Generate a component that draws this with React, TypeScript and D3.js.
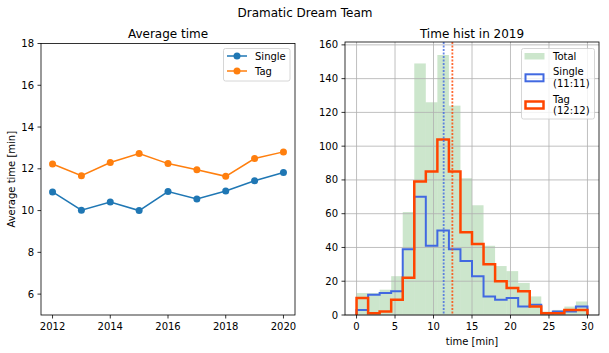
import React from 'react';
import * as d3 from 'd3';

// Average time per year
const years = [2012, 2013, 2014, 2015, 2016, 2017, 2018, 2019, 2020];
const singleAvg = [10.89, 10.02, 10.41, 10.0, 10.91, 10.56, 10.94, 11.43, 11.82];
const tagAvg = [12.23, 11.67, 12.3, 12.73, 12.25, 11.96, 11.64, 12.49, 12.81];
const leftYTicks = [6, 8, 10, 12, 14, 16, 18];
const leftXTicks = [2012, 2014, 2016, 2018, 2020];

// Histogram 2019 (bins of 1.5 min from 0 to 30)
const binEdges = d3.range(0, 30.01, 1.5);
const totalCounts = [13, 13, 15, 23, 61, 149, 126, 154, 124, 81, 65, 41, 29, 26, 19, 11, 2, 3, 5, 8];
const singleCounts = [3, 12, 13, 14, 39, 70, 41, 50, 39, 32, 23, 11, 9, 10, 5, 6, 1, 2, 2, 5];
const tagCounts = [10, 1, 2, 9, 22, 79, 85, 104, 85, 49, 42, 30, 20, 16, 14, 5, 1, 1, 3, 3];
const singleMean = 11.32;
const tagMean = 12.45;
const histXTicks = [0, 5, 10, 15, 20, 25, 30];
const histYTicks = [0, 20, 40, 60, 80, 100, 120, 140, 160];

const FONT = 'DejaVu Sans, sans-serif';
const BLUE = '#1f77b4';
const ORANGE = '#ff7f0e';

const stepPath = (counts: number[], x: d3.ScaleLinear<number, number>, y: d3.ScaleLinear<number, number>) => {
  let p = `M${x(binEdges[0])},${y(0)}`;
  counts.forEach((c, i) => {
    p += `L${x(binEdges[i])},${y(c)}L${x(binEdges[i + 1])},${y(c)}`;
  });
  p += `L${x(binEdges[counts.length])},${y(0)}`;
  return p;
};

const App = () => {
  // left panel
  const lx = d3.scaleLinear().domain([2011.6, 2020.4]).range([41, 295]);
  const ly = d3.scaleLinear().domain([5, 18]).range([315, 43.5]);
  const line = d3.line<number>().x((_, i) => lx(years[i])).y(d => ly(d));

  // right panel
  const hx = d3.scaleLinear().domain([-1.5, 31.5]).range([345, 599]);
  const hy = d3.scaleLinear().domain([0, 161.7]).range([315, 42]);

  return (
    <svg width={609} height={353} style={{ position: 'absolute', left: 0, top: 0, background: '#fff' }}
      fontFamily={FONT}>
      <text x={305} y={17} textAnchor="middle" fontSize={12}>Dramatic Dream Team</text>

      {/* Left: Average time */}
      <text x={168} y={38} textAnchor="middle" fontSize={12}>Average time</text>
      {leftYTicks.map(t => (
        <g key={t}>
          <line x1={41} x2={37.5} y1={ly(t)} y2={ly(t)} stroke="#000" strokeWidth={0.8} />
          <text x={34} y={ly(t)} dy="0.35em" textAnchor="end" fontSize={10}>{t}</text>
        </g>
      ))}
      {leftXTicks.map(t => (
        <g key={t}>
          <line x1={lx(t)} x2={lx(t)} y1={315} y2={318.5} stroke="#000" strokeWidth={0.8} />
          <text x={lx(t)} y={330} textAnchor="middle" fontSize={10}>{t}</text>
        </g>
      ))}
      <text transform={`translate(11,${(43.5 + 315) / 2}) rotate(-90)`} textAnchor="middle" dy="0.35em" fontSize={10}>
        Average time [min]
      </text>
      <path d={line(singleAvg) || ''} fill="none" stroke={BLUE} strokeWidth={1.5} />
      <path d={line(tagAvg) || ''} fill="none" stroke={ORANGE} strokeWidth={1.5} />
      {singleAvg.map((v, i) => <circle key={'s' + i} cx={lx(years[i])} cy={ly(v)} r={3.5} fill={BLUE} />)}
      {tagAvg.map((v, i) => <circle key={'t' + i} cx={lx(years[i])} cy={ly(v)} r={3.5} fill={ORANGE} />)}
      <rect x={41} y={43.5} width={254} height={271.5} fill="none" stroke="#000" strokeWidth={0.8} />
      {/* left legend */}
      <rect x={223.5} y={48.5} width={66.5} height={32.5} rx={2} fill="#fff" fillOpacity={0.8} stroke="#ccc" strokeWidth={0.8} />
      <line x1={227} x2={247} y1={56} y2={56} stroke={BLUE} strokeWidth={1.5} />
      <circle cx={237} cy={56} r={3.5} fill={BLUE} />
      <text x={255} y={56} dy="0.35em" fontSize={10}>Single</text>
      <line x1={227} x2={247} y1={71} y2={71} stroke={ORANGE} strokeWidth={1.5} />
      <circle cx={237} cy={71} r={3.5} fill={ORANGE} />
      <text x={255} y={71} dy="0.35em" fontSize={10}>Tag</text>

      {/* Right: histogram */}
      <text x={472} y={38} textAnchor="middle" fontSize={12}>Time hist in 2019</text>
      {totalCounts.map((c, i) => (
        <rect key={i} x={hx(binEdges[i])} width={hx(binEdges[i + 1]) - hx(binEdges[i])}
          y={hy(c)} height={hy(0) - hy(c)} fill="green" fillOpacity={0.2} />
      ))}
      {histYTicks.map(t => (
        <g key={t}>
          <line x1={345} x2={599} y1={hy(t)} y2={hy(t)} stroke="#b0b0b0" strokeWidth={0.8} />
          <line x1={345} x2={341.5} y1={hy(t)} y2={hy(t)} stroke="#000" strokeWidth={0.8} />
          <text x={338} y={hy(t)} dy="0.35em" textAnchor="end" fontSize={10}>{t}</text>
        </g>
      ))}
      {histXTicks.map(t => (
        <g key={t}>
          <line x1={hx(t)} x2={hx(t)} y1={42} y2={315} stroke="#b0b0b0" strokeWidth={0.8} />
          <line x1={hx(t)} x2={hx(t)} y1={315} y2={318.5} stroke="#000" strokeWidth={0.8} />
          <text x={hx(t)} y={330} textAnchor="middle" fontSize={10}>{t}</text>
        </g>
      ))}
      <text x={472} y={345} textAnchor="middle" fontSize={10}>time [min]</text>
      <path d={stepPath(singleCounts, hx, hy)} fill="none" stroke="royalblue" strokeWidth={2} />
      <path d={stepPath(tagCounts, hx, hy)} fill="none" stroke="orangered" strokeWidth={2.5} />
      <line x1={hx(singleMean)} x2={hx(singleMean)} y1={42} y2={315} stroke="royalblue" strokeOpacity={0.8}
        strokeWidth={1.8} strokeDasharray="2,1.5" />
      <line x1={hx(tagMean)} x2={hx(tagMean)} y1={42} y2={315} stroke="orangered" strokeOpacity={0.8}
        strokeWidth={1.8} strokeDasharray="2,1.5" />
      <rect x={345} y={42} width={254} height={273} fill="none" stroke="#000" strokeWidth={0.8} />
      {/* right legend */}
      <rect x={521.5} y={48.5} width={73} height={70.5} rx={2} fill="#fff" fillOpacity={0.8} stroke="#ccc" strokeWidth={0.8} />
      <rect x={524.5} y={53} width={20} height={6.5} fill="green" fillOpacity={0.2} />
      <text x={553} y={56} dy="0.35em" fontSize={10}>Total</text>
      <rect x={525.5} y={74.3} width={18} height={7} fill="none" stroke="royalblue" strokeWidth={2} />
      <text x={553} y={71.8} dy="0.35em" fontSize={10}>Single</text>
      <text x={553} y={83.3} dy="0.35em" fontSize={10}>(11:11)</text>
      <rect x={525.5} y={101.5} width={18} height={7} fill="none" stroke="orangered" strokeWidth={2.5} />
      <text x={553} y={99.2} dy="0.35em" fontSize={10}>Tag</text>
      <text x={553} y={110.7} dy="0.35em" fontSize={10}>(12:12)</text>
    </svg>
  );
};

export default App;
